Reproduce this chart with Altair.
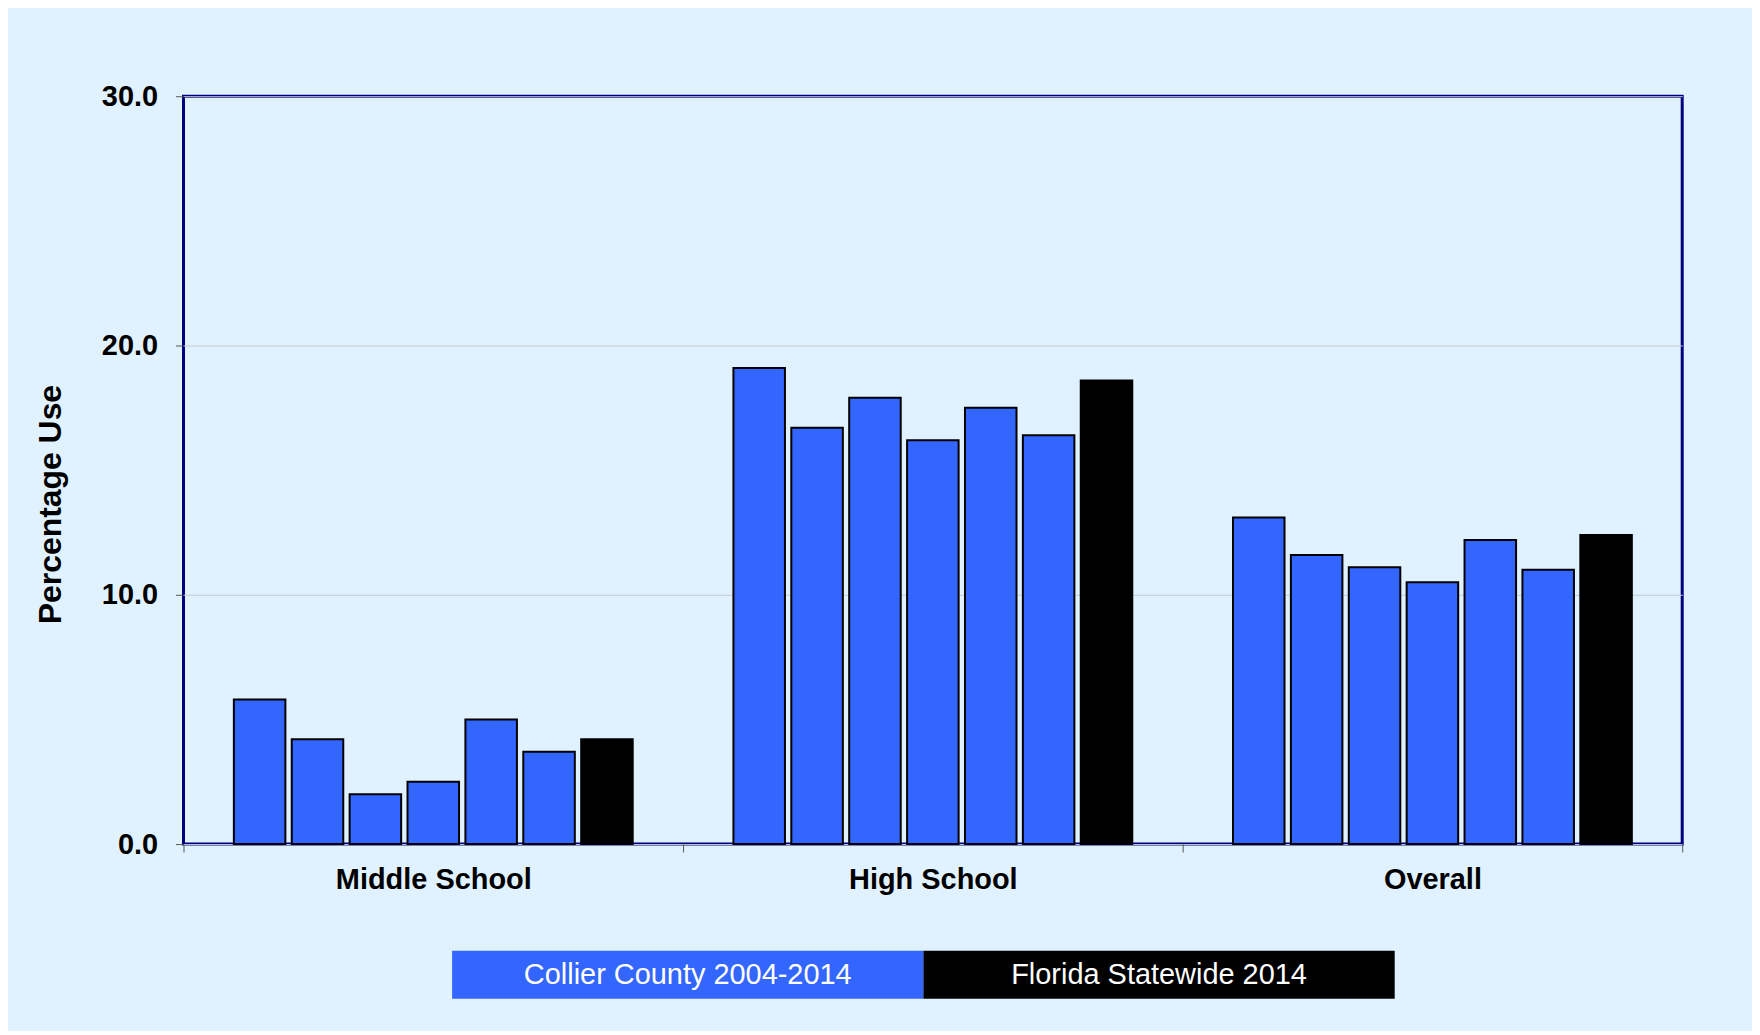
import altair as alt
import pandas as pd

groups = ["Middle School", "High School", "Overall"]
surveys = ["2004", "2006", "2008", "2010", "2012", "2014", "Florida 2014"]
survey_series = ["Collier County 2004-2014"] * 6 + ["Florida Statewide 2014"]
middle_school = [5.8, 4.2, 2.0, 2.5, 5.0, 3.7, 4.2]
high_school = [19.1, 16.7, 17.9, 16.2, 17.5, 16.4, 18.6]
overall = [13.1, 11.6, 11.1, 10.5, 12.2, 11.0, 12.4]
legend_labels = ["Collier County 2004-2014", "Florida Statewide 2014"]
legend_colors = ["#3366FF", "#000000"]
y_ticks = [0, 10, 20, 30]

rows = []
for g, vals in zip(groups, [middle_school, high_school, overall]):
    for s, ser, v in zip(surveys, survey_series, vals):
        rows.append({"group": g, "survey": s, "series": ser, "value": v})
df = pd.DataFrame(rows)

FONT = "Liberation Sans"
color_scale = alt.Scale(domain=legend_labels, range=legend_colors)

main = alt.Chart(df).mark_bar(stroke="black", strokeWidth=2).encode(
    x=alt.X("group:N", sort=groups,
            scale=alt.Scale(paddingInner=0, paddingOuter=0),
            axis=alt.Axis(title=None, labelAngle=0, tickBand="extent", domain=False,
                          ticks=True, tickSize=8, tickColor="#555555", tickWidth=1,
                          labelFontSize=29, labelFontWeight="bold", labelColor="black",
                          labelFont=FONT, labelPadding=14, labelLimit=0, grid=False)),
    xOffset=alt.XOffset("survey:N", sort=surveys,
                        scale=alt.Scale(paddingInner=0.11, paddingOuter=0.87)),
    y=alt.Y("value:Q", scale=alt.Scale(domain=[0, 30], nice=False),
            axis=alt.Axis(values=y_ticks, format=".1f", title="Percentage Use",
                          titleFontSize=32, titleFontWeight="bold", titleFont=FONT,
                          titleColor="black", titlePadding=34, titleY=409,
                          labelFontSize=29, labelFontWeight="bold", labelFont=FONT,
                          labelColor="black", labelPadding=18,
                          tickSize=8, tickColor="#555555", domain=False,
                          grid=True, gridColor="#C8CDD2", gridWidth=1)),
    color=alt.Color("series:N", scale=color_scale, legend=None),
).properties(width=1503, height=750,
             view=alt.ViewBackground(stroke="#00007F", strokeWidth=3))

leg_df = pd.DataFrame({"series": legend_labels})
leg_base = alt.Chart(leg_df).encode(
    x=alt.X("series:N", sort=legend_labels,
            scale=alt.Scale(paddingInner=0, paddingOuter=0.59, align=0.483),
            axis=None)
)
leg_rect = leg_base.mark_bar().encode(
    color=alt.Color("series:N", scale=color_scale, legend=None)
)
leg_text = leg_base.mark_text(color="white", fontSize=29, font=FONT).encode(
    text="series:N"
)
legend = (leg_rect + leg_text).properties(
    width=1503, height=48, view=alt.ViewBackground(stroke="transparent"))

chart = alt.vconcat(main, legend, spacing=53).properties(
    background="#E0F2FF",
    padding={"top": 71, "left": 25, "right": 68, "bottom": 30},
).configure(font=FONT)

chart.save("out.html", embed_options={"renderer": "svg", "actions": False})
